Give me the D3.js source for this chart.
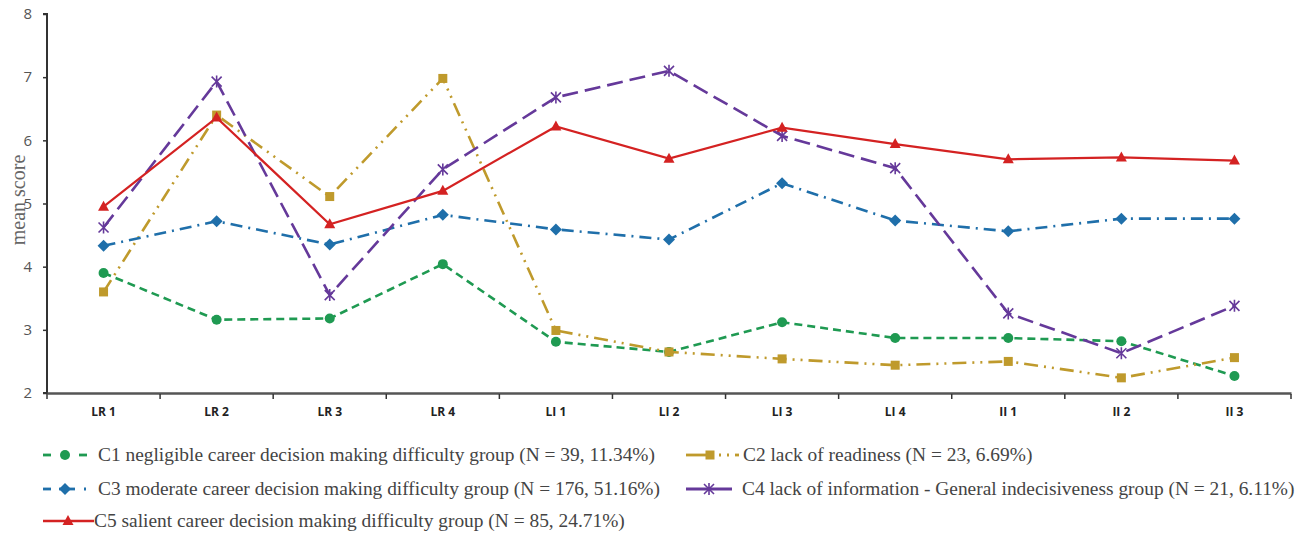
<!DOCTYPE html>
<html><head><meta charset="utf-8">
<script src="https://cdn.jsdelivr.net/npm/d3@7"></script>
<style>html,body{margin:0;padding:0;background:#fff;}svg{display:block;}</style>
</head><body><svg id="chart" width="1298" height="537"></svg>
<script>
const categories = ["LR 1","LR 2","LR 3","LR 4","LI 1","LI 2","LI 3","LI 4","II 1","II 2","II 3"];
const yTicks = [2,3,4,5,6,7,8];
const seriesNames = [
  "C1 negligible career decision making difficulty group (N = 39, 11.34%)",
  "C2 lack of readiness (N = 23, 6.69%)",
  "C3 moderate career decision making difficulty group (N = 176, 51.16%)",
  "C4 lack of information - General indecisiveness group (N = 21, 6.11%)",
  "C5 salient career decision making difficulty group (N = 85, 24.71%)"
];
const c1Values = [3.90,3.16,3.18,4.04,2.81,2.65,3.12,2.87,2.87,2.82,2.27];
const c2Values = [3.60,6.40,5.11,6.98,2.99,2.65,2.54,2.44,2.50,2.24,2.56];
const c3Values = [4.33,4.72,4.35,4.82,4.59,4.43,5.32,4.73,4.56,4.76,4.76];
const c4Values = [4.62,6.93,3.55,5.54,6.68,7.10,6.07,5.56,3.26,2.63,3.38];
const c5Values = [4.95,6.36,4.67,5.20,6.22,5.71,6.20,5.94,5.70,5.73,5.68];

const styles = [
  {color:"#1f9a52", dash:"8,5", marker:"circle", legendSegs:[[0,8],[36,44]], legendMarker:22},
  {color:"#bf9a2c", dash:"14,6,2,6,2,6", marker:"square", legendSegs:[[0,20],[33,35],[41,43],[49,53]], legendMarker:24},
  {color:"#1f6faa", dash:"12,6,2,6", marker:"diamond", legendSegs:[[0,8],[16,32],[41,43]], legendMarker:22},
  {color:"#65399a", dash:"16,7", marker:"asterisk", legendSegs:[[0,46]], legendMarker:23},
  {color:"#d42222", dash:null, marker:"triangle", legendSegs:[[0,51]], legendMarker:25}
];
const allValues = [c1Values,c2Values,c3Values,c4Values,c5Values];

const svg = d3.select("#chart");
const x = d3.scaleBand().domain(categories).range([47,1291]).padding(0);
const y = d3.scaleLinear().domain([2,8]).range([393,14]);

// y axis
const yAxis = svg.append("g").attr("transform","translate(47,0)")
  .call(d3.axisLeft(y).tickValues(yTicks).tickSize(4).tickFormat(d3.format("d")));
yAxis.select(".domain").attr("stroke","#333").attr("stroke-width",2).attr("d","M-4,14H0V393H-4");
yAxis.selectAll(".tick line").attr("stroke","#333").attr("stroke-width",1.5);
yAxis.selectAll(".tick text").attr("font-family","Open Sans, sans-serif").attr("font-size",15).attr("fill","#555").attr("x",-15);

// x axis
const xAxis = svg.append("g").attr("transform","translate(0,393)")
  .call(d3.axisBottom(x).tickSize(0));
xAxis.select(".domain").attr("stroke","#555").attr("stroke-width",2.5);
xAxis.selectAll(".tick text").attr("font-family","Open Sans, sans-serif").attr("font-weight","bold")
  .attr("font-size",12).attr("fill","#222").attr("y",14);
const bounds = categories.map(c=>x(c)).concat([x(categories[categories.length-1])+x.bandwidth()]);
svg.append("g").selectAll("line").data(bounds).join("line")
  .attr("x1",d=>d).attr("x2",d=>d).attr("y1",394).attr("y2",399)
  .attr("stroke","#333").attr("stroke-width",1.5);

// y title
svg.append("text").attr("transform","translate(25,200) rotate(-90)")
  .attr("text-anchor","middle").attr("font-family","Liberation Serif, Times New Roman, serif")
  .attr("font-size",20).attr("fill","#666").text("mean score");

function drawMarker(g, type, color, cx, cy){
  if(type==="circle") g.append("circle").attr("cx",cx).attr("cy",cy).attr("r",5).attr("fill",color);
  else if(type==="square") g.append("rect").attr("x",cx-4.5).attr("y",cy-4.5).attr("width",9).attr("height",9).attr("fill",color);
  else if(type==="diamond") g.append("path").attr("d",`M${cx},${cy-6}L${cx+6},${cy}L${cx},${cy+6}L${cx-6},${cy}Z`).attr("fill",color);
  else if(type==="triangle") g.append("path").attr("d",`M${cx},${cy-6}L${cx+5.5},${cy+4}L${cx-5.5},${cy+4}Z`).attr("fill",color);
  else if(type==="asterisk") g.append("path").attr("d",`M${cx-5},${cy-5}L${cx+5},${cy+5}M${cx-5},${cy+5}L${cx+5},${cy-5}M${cx},${cy-6}L${cx},${cy+6}`)
    .attr("stroke",color).attr("stroke-width",1.6).attr("fill","none");
}

const line = d3.line().x((d,i)=>x(categories[i])+x.bandwidth()/2).y(d=>y(d));
allValues.forEach((vals,si)=>{
  const st = styles[si];
  const g = svg.append("g");
  g.append("path").datum(vals).attr("d",line).attr("fill","none")
    .attr("stroke",st.color).attr("stroke-width",si===4?2.2:2.6)
    .attr("stroke-dasharray",st.dash);
  vals.forEach((v,i)=>drawMarker(g, st.marker, st.color, x(categories[i])+x.bandwidth()/2, y(v)));
});

// legend
const legendPos = [
  {lx:43, ly:455, tx:98}, {lx:686, ly:455, tx:743},
  {lx:43, ly:489, tx:98}, {lx:686, ly:489, tx:742},
  {lx:43, ly:521, tx:94}
];
seriesNames.forEach((name,si)=>{
  const st = styles[si], p = legendPos[si];
  const g = svg.append("g");
  st.legendSegs.forEach(s=>g.append("line").attr("x1",p.lx+s[0]).attr("x2",p.lx+s[1]).attr("y1",p.ly).attr("y2",p.ly)
    .attr("stroke",st.color).attr("stroke-width",si===4?2.4:2.8));
  drawMarker(g, st.marker, st.color, p.lx+st.legendMarker, p.ly);
  g.append("text").attr("x",p.tx).attr("y",p.ly+6)
    .attr("font-family","Liberation Serif, Times New Roman, serif").attr("font-size",19.4)
    .attr("fill","#444").text(name);
});
</script></body></html>
